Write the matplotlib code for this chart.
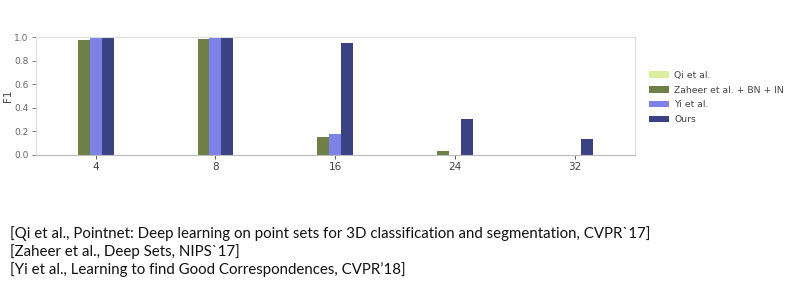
import matplotlib
matplotlib.use("Agg")
import matplotlib.pyplot as plt
import numpy as np

categories = ["4", "8", "16", "24", "32"]
series_names = ["Qi et al.", "Zaheer et al. + BN + IN", "Yi et al.", "Ours"]
qi = [0.0, 0.0, 0.0, 0.0, 0.0]
zaheer = [0.977, 0.985, 0.153, 0.029, 0.0]
yi = [0.991, 0.99, 0.179, 0.0, 0.0]
ours = [0.99, 1.0, 0.949, 0.30, 0.136]
colors = ["#dceea0", "#6e7f48", "#7c82e6", "#3b4283"]
refs = [
    "[Qi et al., Pointnet: Deep learning on point sets for 3D classification and segmentation, CVPR`17]",
    "[Zaheer et al., Deep Sets, NIPS`17]",
    "[Yi et al., Learning to find Good Correspondences, CVPR\u201918]",
]

W, H = 795, 292
fig = plt.figure(figsize=(W / 100, H / 100), dpi=100)
ax = fig.add_axes([35.7 / W, 1 - 154.7 / H, (635 - 35.7) / W, (154.7 - 37.3) / H])

x = np.arange(len(categories))
bw = 0.1
for i, (vals, name, c) in enumerate(zip([qi, zaheer, yi, ours], series_names, colors)):
    ax.bar(x + (i - 2) * bw, vals, width=bw, color=c, label=name,
           align="center", edgecolor="none")

ax.set_xlim(-0.5, 4.5)
ax.set_ylim(0, 1.0)
ax.set_xticks(x)
ax.set_xticklabels(categories)
ax.set_yticks([0.0, 0.2, 0.4, 0.6, 0.8, 1.0])
ax.set_yticklabels(["0.0", "0.2", "0.4", "0.6", "0.8", "1.0"])
ax.tick_params(axis="y", labelsize=6.5, colors="#666666", length=3, width=0.6, pad=2)
ax.tick_params(axis="x", labelsize=7.5, colors="#444444", length=3, width=0.6, pad=2)
for s in ["top", "right", "left"]:
    ax.spines[s].set_color("#dddddd")
    ax.spines[s].set_linewidth(0.8)
ax.spines["bottom"].set_color("#bbbbbb")
ax.spines["bottom"].set_linewidth(0.8)
ax.set_ylabel("F1", fontsize=7.5, color="#444444", labelpad=1)

leg = ax.legend(loc="upper left", bbox_to_anchor=(1.017, 0.745), frameon=False,
                fontsize=6.7, handlelength=2.2, handleheight=0.7, labelspacing=0.62,
                handletextpad=0.5, borderaxespad=0)
for t in leg.get_texts():
    t.set_color("#444444")

for k, line in enumerate(refs):
    fig.text(10 / W, 1 - (233.5 + 18 * k) / H, line, fontsize=10.8, family="Lato",
             color="#111111", va="center", ha="left")

fig.savefig("out.png", dpi=100)
